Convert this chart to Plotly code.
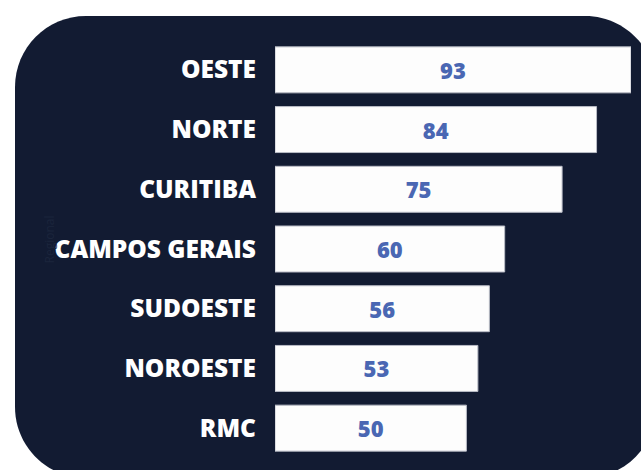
import plotly.graph_objects as go

# ---- data ----
regions = ["OESTE", "NORTE", "CURITIBA", "CAMPOS GERAIS", "SUDOESTE", "NOROESTE", "RMC"]
counts = [93, 84, 75, 60, 56, 53, 50]
axis_title = "Regional"

# ---- style / layout constants ----
W, H = 641, 470
ML, MR, MT, MB = 275, 10, 40, 12
BG_DARK = "#121b32"
VALUE_BLUE = "#4a67b3"

fig = go.Figure(
    go.Bar(
        y=regions,
        x=counts,
        orientation="h",
        text=[str(v) for v in counts],
        textposition="inside",
        insidetextanchor="middle",
        textfont=dict(family="Open Sans", size=22, color=VALUE_BLUE, weight=800),
        marker=dict(color="#fdfdfd", line=dict(color="#b9bcc6", width=1)),
        hoverinfo="skip",
    )
)

# rounded dark panel (pixel geometry converted to paper coords)
pw = W - ML - MR
ph = H - MT - MB
def px2x(px):
    return (px - ML) / pw
def py2y(py):
    return 1 - (py - MT) / ph

left, right, top, bottom, r = 15, 656, 16, 478, 71
rx = r / pw
ry = r / ph
x0, x1 = px2x(left), px2x(right)
yT, yB = py2y(top), py2y(bottom)
k = 0.4477  # bezier factor for circle approximation (1 - 0.5523)
path = (
    f"M {x0+rx},{yT} L {x1-rx},{yT} "
    f"C {x1-rx*k},{yT} {x1},{yT-ry*k} {x1},{yT-ry} "
    f"L {x1},{yB+ry} "
    f"C {x1},{yB+ry*k} {x1-rx*k},{yB} {x1-rx},{yB} "
    f"L {x0+rx},{yB} "
    f"C {x0+rx*k},{yB} {x0},{yB+ry*k} {x0},{yB+ry} "
    f"L {x0},{yT-ry} "
    f"C {x0},{yT-ry*k} {x0+rx*k},{yT} {x0+rx},{yT} Z"
)
fig.add_shape(
    type="path", path=path, xref="paper", yref="paper",
    fillcolor=BG_DARK, line=dict(width=0), layer="below",
)

fig.update_layout(
    width=W, height=H,
    margin=dict(l=ML, r=MR, t=MT, b=MB),
    paper_bgcolor="white",
    plot_bgcolor="rgba(0,0,0,0)",
    bargap=0.23,
    showlegend=False,
    xaxis=dict(range=[0, 93], visible=False, fixedrange=True),
    yaxis=dict(
        categoryorder="array",
        categoryarray=regions[::-1],
        tickfont=dict(family="Open Sans", size=24.5, color="white", weight=800),
        ticks="",
        ticklabelstandoff=18,
        showgrid=False,
        zeroline=False,
        showline=False,
        fixedrange=True,
    ),
)
fig.add_annotation(
    text=axis_title, textangle=-90, xref="paper", yref="paper",
    x=px2x(38), y=py2y(240), showarrow=False,
    font=dict(family="Open Sans", size=12, color="#1b253c"),
)

fig.write_html(
    "out.html",
    config={"displayModeBar": False},
    post_script="document.body.style.margin='0';document.body.style.overflow='hidden';",
)
